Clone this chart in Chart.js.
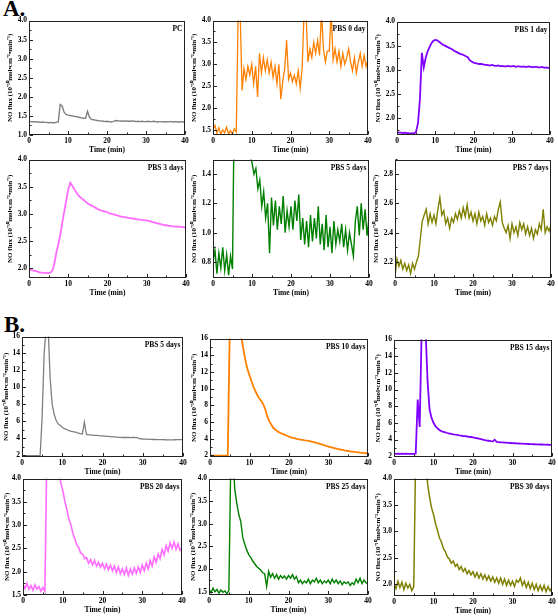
<!DOCTYPE html>
<html>
<head>
<meta charset="utf-8">
<script src="https://cdn.jsdelivr.net/npm/chart.js@4.4.1/dist/chart.umd.min.js"></script>
<style>
body { margin: 0; background: #fff; }
#wrap { position: relative; width: 558px; height: 616px; overflow: hidden; }
#wrap canvas { position: absolute; }
.big { position: absolute; font-family: 'Liberation Serif', serif; font-weight: bold; font-size: 23px; line-height: 1; color: #000; }
</style>
</head>
<body>
<div id="wrap">
  <div class="big" style="left:3px;top:-3px">A.</div>
  <div class="big" style="left:4px;top:313px">B.</div>
</div>
<script>
// time axis shared by every trace (min)
const time = [
  0,0.5,1,1.5,2,2.5,3,3.5,4,4.5,
  5,5.5,6,6.5,7,7.5,8,8.5,9,9.5,
  10,10.5,11,11.5,12,12.5,13,13.5,14,14.5,
  15,15.5,16,16.5,17,17.5,18,18.5,19,19.5,
  20,20.5,21,21.5,22,22.5,23,23.5,24,24.5,
  25,25.5,26,26.5,27,27.5,28,28.5,29,29.5,
  30,30.5,31,31.5,32,32.5,33,33.5,34,34.5,
  35,35.5,36,36.5,37,37.5,38,38.5,39,39.5,
  40
];

// A. NO flux traces
const fluxPC = [
  1.35,1.35,1.34,1.35,1.34,1.34,1.33,1.34,1.33,1.33,
  1.32,1.33,1.32,1.32,1.33,1.34,1.80,1.76,1.60,1.54,
  1.52,1.51,1.50,1.49,1.48,1.47,1.46,1.45,1.44,1.44,
  1.62,1.47,1.41,1.40,1.39,1.38,1.37,1.37,1.36,1.35,
  1.36,1.35,1.34,1.35,1.37,1.38,1.37,1.36,1.37,1.36,
  1.37,1.36,1.36,1.37,1.36,1.35,1.36,1.35,1.36,1.35,
  1.35,1.36,1.35,1.35,1.36,1.35,1.34,1.35,1.35,1.34,
  1.35,1.34,1.35,1.35,1.34,1.35,1.34,1.34,1.35,1.34,
  1.34
];
const fluxA0 = [
  1.52,1.60,1.42,1.55,1.40,1.50,1.43,1.56,1.40,1.48,
  1.41,1.52,1.45,4.20,4.20,2.40,2.90,2.65,2.95,2.75,
  3.00,2.55,2.95,2.25,3.25,2.80,3.15,2.85,3.10,2.80,
  3.05,2.70,2.95,2.55,3.00,2.20,2.60,2.90,3.55,2.65,
  2.80,2.60,2.75,2.55,2.85,2.45,2.90,4.20,4.20,3.05,
  3.35,3.15,3.50,3.25,3.55,3.20,4.20,3.35,3.05,3.30,
  3.30,4.20,3.10,3.35,3.05,3.30,2.95,3.25,3.00,3.15,
  3.35,3.05,2.85,3.15,2.80,3.05,3.25,2.95,3.20,2.95,
  3.10
];
const fluxA1 = [
  1.71,1.70,1.70,1.69,1.70,1.69,1.69,1.68,1.69,1.68,
  1.72,1.90,2.40,3.35,3.05,3.25,3.38,3.47,3.55,3.60,
  3.62,3.61,3.58,3.55,3.52,3.50,3.48,3.46,3.44,3.42,
  3.39,3.37,3.35,3.33,3.32,3.30,3.28,3.26,3.20,3.17,
  3.15,3.14,3.13,3.12,3.12,3.11,3.10,3.10,3.09,3.09,
  3.10,3.08,3.08,3.09,3.07,3.08,3.07,3.07,3.08,3.07,
  3.07,3.08,3.06,3.07,3.07,3.06,3.07,3.06,3.06,3.07,
  3.06,3.05,3.06,3.06,3.05,3.05,3.06,3.04,3.05,3.04,
  3.04
];
const fluxA3 = [
  1.98,1.97,1.96,1.95,1.94,1.93,1.92,1.92,1.91,1.92,
  1.91,1.92,1.96,2.10,2.30,2.45,2.62,2.85,3.05,3.25,
  3.45,3.57,3.52,3.46,3.40,3.35,3.31,3.28,3.25,3.22,
  3.19,3.17,3.15,3.13,3.11,3.09,3.07,3.06,3.05,3.04,
  3.03,3.01,3.00,2.99,2.98,2.97,2.96,2.95,2.94,2.94,
  2.93,2.92,2.92,2.91,2.91,2.90,2.90,2.89,2.89,2.88,
  2.88,2.87,2.86,2.85,2.84,2.83,2.82,2.81,2.80,2.79,
  2.79,2.78,2.78,2.77,2.77,2.76,2.77,2.76,2.76,2.75,
  2.76
];
const fluxA5 = [
  0.80,0.88,0.72,0.86,0.76,0.90,0.74,0.85,0.71,0.84,
  0.75,2.00,2.00,2.00,2.00,2.00,2.00,2.00,2.00,1.52,
  1.48,1.40,1.44,1.30,1.36,1.18,1.28,1.10,1.20,0.86,
  1.24,1.05,1.22,1.02,1.18,1.06,1.25,1.00,1.15,1.04,
  1.18,1.02,1.22,1.08,1.26,0.95,1.10,0.92,1.08,0.90,
  1.12,0.94,1.10,0.96,1.18,0.92,1.06,0.88,1.12,0.90,
  1.04,0.86,1.08,0.92,1.02,0.94,1.06,0.90,1.02,0.88,
  1.00,0.92,0.84,1.08,1.18,0.98,1.20,1.02,1.16,0.98,
  1.10
];
const fluxA7 = [
  2.10,2.22,2.17,2.21,2.15,2.19,2.14,2.18,2.12,2.19,
  2.15,2.20,2.24,2.36,2.48,2.52,2.56,2.46,2.53,2.47,
  2.52,2.46,2.56,2.64,2.52,2.55,2.46,2.50,2.43,2.50,
  2.47,2.53,2.49,2.55,2.50,2.57,2.51,2.59,2.50,2.54,
  2.48,2.53,2.46,2.54,2.48,2.51,2.45,2.53,2.47,2.50,
  2.45,2.51,2.48,2.56,2.61,2.47,2.43,2.40,2.45,2.36,
  2.46,2.40,2.44,2.38,2.47,2.42,2.46,2.39,2.44,2.38,
  2.43,2.36,2.42,2.39,2.46,2.42,2.56,2.40,2.44,2.41,
  2.45
];

// B. NO flux traces
const fluxB5 = [
  1.95,1.96,1.95,1.95,1.96,1.95,1.95,1.96,1.95,1.95,
  6.50,14.0,17.0,17.0,11.0,8.00,6.80,6.10,5.70,5.50,
  5.30,5.15,5.05,4.95,4.85,4.80,4.75,4.70,4.60,4.55,
  4.50,5.90,4.45,4.42,4.40,4.38,4.36,4.34,4.32,4.30,
  4.28,4.26,4.24,4.22,4.20,4.18,4.16,4.14,4.12,4.12,
  4.10,4.10,4.12,4.10,4.08,4.10,4.12,4.08,4.00,3.95,
  3.92,3.90,3.90,3.88,3.88,3.86,3.86,3.85,3.85,3.84,
  3.84,3.83,3.82,3.82,3.81,3.82,3.83,3.84,3.85,3.85,
  3.85
];
const fluxB10 = [
  1.95,1.96,1.95,1.95,1.96,1.95,1.95,1.96,1.95,2.00,
  17.0,17.0,17.0,17.0,17.0,17.0,16.0,14.6,13.3,12.3,
  11.6,10.9,10.2,9.70,9.20,8.80,8.50,8.10,7.50,6.70,
  6.10,5.70,5.30,5.10,4.90,4.75,4.65,4.55,4.45,4.35,
  4.25,4.15,4.08,4.02,3.96,3.92,3.88,3.85,3.80,3.76,
  3.72,3.68,3.62,3.56,3.50,3.42,3.35,3.28,3.20,3.12,
  3.05,2.98,2.92,2.86,2.80,2.74,2.70,2.65,2.60,2.56,
  2.52,2.48,2.45,2.42,2.38,2.35,2.32,2.30,2.27,2.25,
  2.22
];
const fluxB15 = [
  2.30,2.28,2.30,2.27,2.29,2.28,2.30,2.27,2.28,2.27,
  2.28,2.30,8.80,5.50,17.0,17.0,17.0,11.0,7.60,6.60,
  6.00,5.60,5.35,5.15,5.00,4.90,4.85,4.78,4.72,4.68,
  4.62,4.58,4.55,4.50,4.46,4.42,4.40,4.36,4.32,4.30,
  4.25,4.20,4.15,4.10,4.05,3.98,3.92,3.88,3.85,3.80,
  3.78,3.98,3.70,3.68,3.66,3.65,3.63,3.62,3.60,3.58,
  3.56,3.55,3.54,3.52,3.50,3.50,3.48,3.47,3.46,3.45,
  3.44,3.43,3.42,3.41,3.40,3.40,3.39,3.38,3.37,3.36,
  3.35
];
const fluxB20 = [
  1.72,1.64,1.75,1.62,1.70,1.60,1.72,1.63,1.68,1.58,
  1.66,1.58,4.50,4.50,4.50,4.50,4.50,4.50,4.50,3.90,
  3.75,3.52,3.35,3.14,3.02,2.84,2.72,2.58,2.52,2.40,
  2.38,2.28,2.30,2.18,2.26,2.14,2.24,2.12,2.20,2.10,
  2.18,2.06,2.16,2.04,2.14,2.02,2.12,1.98,2.10,1.96,
  2.06,1.94,2.08,1.92,2.06,1.95,2.08,1.96,2.10,1.98,
  2.14,2.02,2.18,2.06,2.24,2.12,2.32,2.20,2.38,2.28,
  2.48,2.36,2.56,2.44,2.62,2.50,2.64,2.48,2.60,2.46,
  2.52
];
const fluxB25 = [
  1.56,1.48,1.58,1.50,1.55,1.47,1.54,1.49,1.52,1.46,
  1.53,4.50,4.50,3.75,3.45,3.20,3.05,2.70,2.55,2.42,
  2.32,2.26,2.18,2.12,2.06,2.02,1.98,1.92,1.90,1.62,
  1.95,1.82,1.90,1.80,1.88,1.78,1.86,1.80,1.85,1.78,
  1.86,1.80,1.88,1.78,1.84,1.70,1.76,1.68,1.74,1.70,
  1.78,1.68,1.76,1.72,1.80,1.70,1.76,1.68,1.74,1.70,
  1.76,1.68,1.78,1.70,1.76,1.68,1.74,1.66,1.72,1.68,
  1.72,1.64,1.70,1.66,1.78,1.70,1.80,1.68,1.76,1.70,
  1.68
];
const fluxB30 = [
  2.02,1.92,2.06,1.94,2.04,1.90,2.02,1.93,2.00,1.88,
  1.96,4.50,4.50,4.50,4.50,4.50,4.50,3.90,3.65,3.45,
  3.32,3.15,3.02,2.88,2.80,2.68,2.62,2.52,2.48,2.40,
  2.44,2.34,2.38,2.28,2.34,2.24,2.30,2.20,2.26,2.18,
  2.24,2.14,2.22,2.12,2.20,2.10,2.18,2.08,2.16,2.06,
  2.14,2.04,2.12,2.02,2.12,2.00,2.10,1.98,2.08,1.98,
  2.06,1.96,2.08,2.04,2.12,1.98,2.06,1.94,2.04,1.92,
  2.02,1.90,2.00,1.88,1.98,1.88,1.98,1.86,1.96,1.88,
  1.94
];

const panelLabels = ['PC', 'PBS 0 day', 'PBS 1 day', 'PBS 3 days', 'PBS 5 days', 'PBS 7 days',
  'PBS 5 days', 'PBS 10 days', 'PBS 15 days', 'PBS 20 days', 'PBS 25 days', 'PBS 30 days'];
const series = [fluxPC, fluxA0, fluxA1, fluxA3, fluxA5, fluxA7, fluxB5, fluxB10, fluxB15, fluxB20, fluxB25, fluxB30];
const yMins = [1.0, 1.38, 1.65, 1.82, 0.69, 2.09, 1.8, 1.8, 1.9, 1.5, 1.43, 1.78];
const yMaxs = [4.0, 4.0, 4.0, 4.0, 1.5, 2.9, 16, 16, 16, 4.0, 4.0, 4.0];
const ySteps = [0.5, 0.5, 0.5, 0.5, 0.2, 0.2, 2, 2, 2, 0.5, 0.5, 0.5];
const yDecimals = [1, 1, 1, 1, 1, 1, 0, 0, 0, 1, 1, 1];
const xTicks = [0, 10, 20, 30, 40];

// look of each panel
const colors = ['#7f7f7f', '#ff8000', '#8000ff', '#ff6cff', '#007f00', '#808000',
  '#7f7f7f', '#ff8000', '#8000ff', '#ff6cff', '#007f00', '#808000'];
const lineWidths = [1.4, 1.3, 1.8, 1.8, 1.4, 1.4, 1.3, 1.8, 1.8, 1.6, 1.4, 1.5];
// plot area in page px: left, top, right, bottom
const plotRects = [
  [29, 20, 185, 135], [213, 20, 368, 135], [397, 21, 550, 135],
  [29, 159, 186, 278], [213, 159, 369, 278], [395, 159, 551, 278],
  [22, 336, 183, 457], [210, 338, 368, 457], [394, 339, 552, 457],
  [23, 478, 182, 595], [209, 478, 368, 595], [394, 478, 552, 596]
];

const FONT = "'Liberation Serif', 'Times New Roman', serif";
const yTitle = 'NO flux (10\u207B\u00B9\u2070mol\u2022cm\u207B\u00B2\u2022min\u207B\u00B9)';

// box, inward ticks and panel name
const framePlugin = {
  id: 'frame',
  afterDraw(chart) {
    const ctx = chart.ctx;
    const a = chart.chartArea;
    const opt = chart.options.plugins.frame;
    const l = Math.round(a.left) + 0.5, t = Math.round(a.top) + 0.5;
    const r = Math.round(a.right) - 0.5, b = Math.round(a.bottom) - 0.5;
    ctx.save();
    ctx.strokeStyle = '#222';
    ctx.lineWidth = 1;
    ctx.strokeRect(l, t, r - l, b - t);

    ctx.beginPath();
    const ys = chart.scales.y;
    const half = opt.step / 2;
    for (let k = Math.ceil(ys.min / half - 1e-6); k <= Math.floor(ys.max / half + 1e-6); k++) {
      const p = Math.round(ys.getPixelForValue(k * half)) + 0.5;
      const len = k % 2 === 0 ? 3.5 : 2;
      ctx.moveTo(l, p);
      ctx.lineTo(l + len, p);
    }
    const xs = chart.scales.x;
    for (let v = 0; v <= 40; v += 5) {
      const p = Math.round(xs.getPixelForValue(v)) + 0.5;
      const len = v % 10 === 0 ? 3.5 : 2;
      ctx.moveTo(p, b);
      ctx.lineTo(p, b - len);
    }
    ctx.stroke();

    ctx.fillStyle = '#000';
    ctx.font = 'bold 7.5px ' + FONT;
    ctx.textAlign = 'right';
    ctx.textBaseline = 'alphabetic';
    ctx.fillText(opt.label, r - 2, t + 9);
    ctx.restore();
  }
};

const wrap = document.getElementById('wrap');

for (let i = 0; i < series.length; i++) {
  const [L, T, R, B] = plotRects[i];
  const yW = i < 6 ? 24 : 21;
  const xH = 21, padTop = 6, padRight = 7;
  const cv = document.createElement('canvas');
  cv.width = yW + (R - L) + padRight;
  cv.height = padTop + (B - T) + xH;
  cv.style.left = (L - yW) + 'px';
  cv.style.top = (T - padTop) + 'px';
  wrap.appendChild(cv);

  const vals = series[i];
  const dec = yDecimals[i];

  new Chart(cv, {
    type: 'line',
    data: {
      datasets: [{
        data: time.map((t, j) => ({ x: t, y: vals[j] })),
        borderColor: colors[i],
        borderWidth: lineWidths[i],
        pointRadius: 0,
        tension: 0,
        fill: false
      }]
    },
    options: {
      responsive: false,
      animation: false,
      devicePixelRatio: 1,
      layout: { padding: { top: padTop, right: padRight, left: 0, bottom: 0 } },
      plugins: {
        legend: { display: false },
        tooltip: { enabled: false },
        frame: { label: panelLabels[i], step: ySteps[i] }
      },
      scales: {
        x: {
          type: 'linear',
          min: 0,
          max: 40,
          afterBuildTicks: s => { s.ticks = xTicks.map(v => ({ value: v })); },
          afterFit: s => { s.height = xH; },
          grid: { display: false, drawTicks: false },
          border: { display: false },
          ticks: { color: '#000', padding: 2, maxRotation: 0, font: { family: FONT, size: 7.5, weight: 'bold' } },
          title: { display: true, text: 'Time (min)', color: '#000', padding: { top: 0, bottom: 1 },
                   font: { family: FONT, size: 7.5, weight: 'bold' } }
        },
        y: {
          min: yMins[i],
          max: yMaxs[i],
          afterFit: s => { s.width = yW; },
          grid: { display: false, drawTicks: false },
          border: { display: false },
          ticks: { stepSize: ySteps[i], includeBounds: false, color: '#000', padding: 2,
                   font: { family: FONT, size: 7.5, weight: 'bold' },
                   callback: v => v.toFixed(dec) },
          title: { display: true, text: yTitle, color: '#000', padding: { top: 1, bottom: 0 },
                   font: { family: FONT, size: 7, weight: 'bold' } }
        }
      }
    },
    plugins: [framePlugin]
  });
}
</script>
</body>
</html>
